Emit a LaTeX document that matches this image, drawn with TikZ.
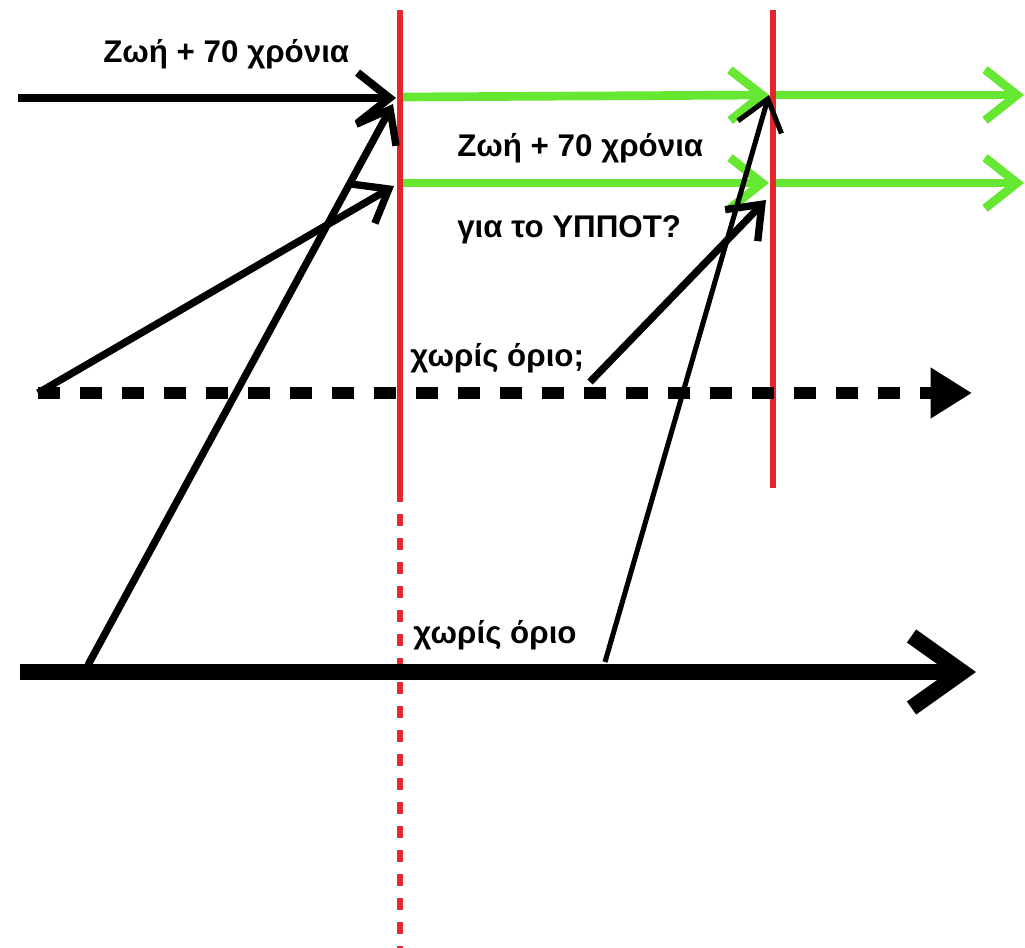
\documentclass[tikz,border=0pt]{standalone}
\usepackage{fontspec}
\setmainfont{Liberation Sans}
\usetikzlibrary{arrows.meta}
\definecolor{lgreen}{RGB}{102,232,51}
\definecolor{vred}{RGB}{226,38,44}
\begin{document}
\begin{tikzpicture}[x=0.75pt,y=-0.75pt,
  lbl/.style={anchor=base west,inner sep=0pt,font=\fontsize{23.5}{26}\selectfont\bfseries},
  redline/.style={draw=vred,line width=5pt},
  reddash/.style={draw=vred,line width=5pt,dash pattern=on 9pt off 9pt},
  blk/.style={draw=black,line width=6pt,-{Straight Barb[length=24pt,width=38pt]}},
  grn/.style={draw=lgreen,line width=6.5pt,-{Straight Barb[length=24pt,width=38pt]}},
  diag/.style={draw=black,line width=5.5pt,-{Straight Barb[length=22pt,width=34pt]}},
  thin/.style={draw=black,line width=3.8pt,-{Straight Barb[length=22pt,width=34pt]}},
]
\useasboundingbox (0,0) rectangle (1025,948);
% coordinates
\coordinate (r1t) at (400,10);
\coordinate (r1m) at (400,490);
\coordinate (r1b) at (400,948);
\coordinate (r2t) at (773,10);
\coordinate (r2b) at (773,488);
\coordinate (topS) at (18,98);
\coordinate (topE) at (396,98);
\coordinate (g1a) at (403,97);
\coordinate (g1b) at (769,95);
\coordinate (g1c) at (776,95);
\coordinate (g1d) at (1024,95);
\coordinate (g2a) at (403,183);
\coordinate (g2b) at (769,183);
\coordinate (g2c) at (776,183);
\coordinate (g2d) at (1024,183);
\coordinate (dS) at (38,393);
\coordinate (dE) at (972,393);
\coordinate (bS) at (20,672);
\coordinate (bE) at (976,672);
\coordinate (p1) at (88,665);
\coordinate (p1e) at (393,104);
\coordinate (p2e) at (394,186);
\coordinate (p3) at (590,382);
\coordinate (p3e) at (766,200);
\coordinate (p4) at (605,662);
\coordinate (p4e) at (769,95);
% red lines
\draw[redline] (r1t) -- (r1m);
\draw[reddash] (r1m) -- (r1b);
\draw[redline] (r2t) -- (r2b);
% green arrows
\draw[grn] (g1a) -- (g1b);
\draw[grn] (g1c) -- (g1d);
\draw[grn] (g2a) -- (g2b);
\draw[grn] (g2c) -- (g2d);
% top black arrow
\draw[blk] (topS) -- (topE);
% dashed arrow
\draw[draw=black,line width=9.5pt,dash pattern=on 16.5pt off 15pt,-{Triangle[length=31pt,width=36pt]}] (dS) -- (dE);
% bottom thick arrow
\draw[draw=black,line width=12pt,-{Straight Barb[length=38pt,width=54pt]}] (bS) -- (bE);
% diagonal arrows
\draw[diag] (p1) -- (p1e);
\draw[diag] (dS) -- (p2e);
\draw[diag] (p3) -- (p3e);
\draw[thin] (p4) -- (p4e);
% labels
\node[lbl] (t1) at (103,63) {Ζωή + 70 χρόνια};
\node[lbl] (t2) at (457,157) {Ζωή + 70 χρόνια};
\node[lbl] (t3) at (457,238) {για το ΥΠΠΟΤ?};
\node[lbl] (t4) at (410,367) {χωρίς όριο;};
\node[lbl] (t5) at (413,643) {χωρίς όριο};
\end{tikzpicture}
\end{document}
